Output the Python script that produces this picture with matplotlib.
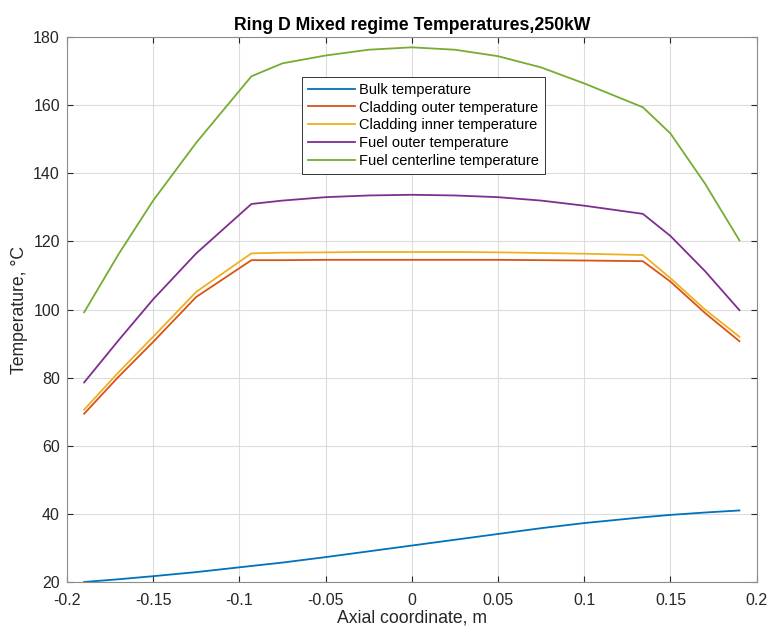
import numpy as np
import matplotlib.pyplot as plt

plt.rcParams['font.family'] = ['Liberation Sans', 'DejaVu Sans']

# axial positions (m)
z = [-0.19, -0.17, -0.15, -0.125, -0.093, -0.075, -0.05, -0.025, 0.0,
     0.025, 0.05, 0.075, 0.1, 0.134, 0.15, 0.17, 0.19]

bulk = [20.0, 20.8, 21.7, 22.9, 24.7, 25.7, 27.3, 29.0, 30.7,
        32.4, 34.1, 35.8, 37.3, 39.0, 39.7, 40.4, 41.0]
clad_out = [69.4, 80.3, 90.5, 103.7, 114.5, 114.5, 114.6, 114.6, 114.6,
            114.6, 114.6, 114.5, 114.4, 114.2, 108.2, 99.0, 90.7]
clad_in = [70.6, 81.6, 92.0, 105.2, 116.5, 116.7, 116.8, 116.9, 116.9,
           116.9, 116.8, 116.6, 116.4, 116.0, 109.2, 100.0, 92.0]
fuel_out = [78.6, 91.0, 103.0, 116.5, 131.0, 132.0, 133.0, 133.5, 133.7,
            133.5, 133.0, 132.0, 130.5, 128.1, 121.6, 111.3, 99.8]
fuel_cl = [99.2, 116.3, 132.0, 149.0, 168.5, 172.3, 174.6, 176.3, 177.0,
           176.3, 174.4, 171.1, 166.4, 159.4, 151.7, 137.0, 120.3]

labels = ['Bulk temperature', 'Cladding outer temperature',
          'Cladding inner temperature', 'Fuel outer temperature',
          'Fuel centerline temperature']
colors = ['#0072BD', '#D95319', '#EDB120', '#7E2F8E', '#77AC30']

fig = plt.figure(figsize=(7.69, 6.27), dpi=100)
ax = fig.add_axes([0.087, 0.0718, 0.897, 0.869])

for y, lab, c in zip([bulk, clad_out, clad_in, fuel_out, fuel_cl], labels, colors):
    ax.plot(z, y, color=c, lw=1.3, label=lab)

ax.set_xlim(-0.2, 0.2)
ax.set_ylim(20, 180)
ax.set_xticks(np.arange(-0.2, 0.201, 0.05))
ax.set_xticklabels(['-0.2', '-0.15', '-0.1', '-0.05', '0', '0.05', '0.1', '0.15', '0.2'])
ax.set_yticks(np.arange(20, 181, 20))

ax.grid(True, color='#dcdcdc', lw=0.8)
ax.set_axisbelow(True)
ax.tick_params(direction='in', top=True, right=True, labelsize=11.5,
               colors='#262626', length=4, width=0.8)
ax.tick_params(axis='x', pad=8)
ax.tick_params(axis='y', pad=5)
for s in ax.spines.values():
    s.set_color('#8c8c8c')
    s.set_linewidth(0.8)

ax.set_title('Ring D Mixed regime Temperatures,250kW', fontsize=12.7,
             fontweight='bold', pad=5)
ax.set_xlabel('Axial coordinate, m', fontsize=12.7, color='#262626', labelpad=1)
ax.set_ylabel('Temperature, °C', fontsize=12.7, color='#262626', labelpad=4)

leg = ax.legend(loc='upper left', bbox_to_anchor=(0.341, 0.927), fontsize=10.5,
                fancybox=False, framealpha=1, edgecolor='#333333',
                handlelength=3.2, handletextpad=0.3, borderpad=0.4,
                labelspacing=0.26, borderaxespad=0)
leg.get_frame().set_linewidth(0.7)

fig.savefig('out.png', dpi=100)
